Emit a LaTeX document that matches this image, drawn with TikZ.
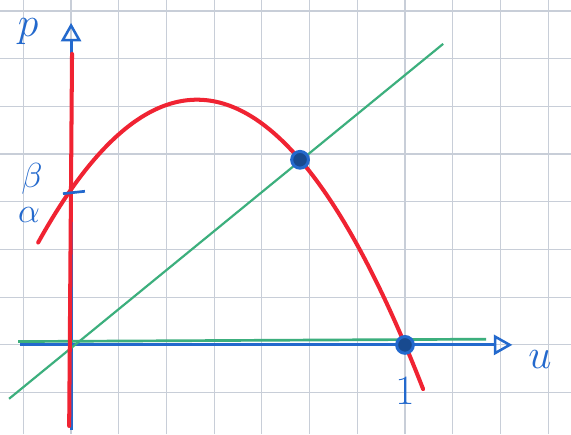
\documentclass[tikz,border=0pt]{standalone}
\usepackage{amsmath}
\usepackage{amssymb}
\usetikzlibrary{arrows.meta}
\definecolor{pen}{RGB}{35,105,205}
\definecolor{redpen}{RGB}{240,35,50}
\definecolor{greenpen}{RGB}{60,175,125}
\definecolor{paper}{RGB}{200,206,216}
\tikzset{node distance=2.0cm, auto}

\begin{document}
\begin{tikzpicture}[
  gridline/.style={draw=paper, line width=0.7pt},
  axis/.style={draw=pen, line width=1.8pt, -{Triangle[open, length=11pt, width=12pt, line width=1.5pt]}},
  curve/.style={draw=redpen, line width=2.4pt, line cap=round},
  greenline/.style={draw=greenpen, line width=1.3pt},
  dot/.style={circle, draw=pen, fill=pen!70!black, line width=1.8pt, inner sep=0pt, minimum size=10pt},
  lab/.style={text=pen, font=\fontsize{28}{30}\selectfont}
]
\useasboundingbox (-1.49,-1.87) rectangle (10.48,7.23);
\fill[white] (-1.49,-1.87) rectangle (10.48,7.23);
\draw[gridline, step=1] (-1.49,-1.87) grid (10.48,7.23);

% axes
\coordinate (O) at (0,0);
\coordinate (ybot) at (0,-1.78);
\coordinate (ytop) at (0,6.75);
\coordinate (xleft) at (-1.07,0);
\coordinate (xright) at (9.25,0);
\draw[axis] (ybot) -- (ytop);
\draw[axis] (xleft) -- (xright);

% green lines
\draw[greenline, line width=1.6pt] (-1.11,0.07) -- (8.7,0.12);
\draw[greenline] (-1.30,-1.13) -- (7.80,6.31);

% red
\draw[curve] (-0.04,-1.70) -- (0.02,6.10);
\draw[curve, domain=-0.69:7.38, samples=60, smooth] plot (\x, {5.14-0.27*(\x-2.64)*(\x-2.64)});

% tick and points
\draw[draw=pen, line width=1.6pt] (-0.17,3.17) -- (0.29,3.22);
\node[dot] (A) at (4.80,3.88) {};
\node[dot] (B) at (7.0,0) {};

% labels
\node[lab] (p) at (-0.9,6.56) {$p$};
\node[lab] (u) at (9.83,-0.3) {$u$};
\node[lab, font=\fontsize{26}{28}\selectfont] (one) at (7.0,-0.96) {$1$};
\node[lab, font=\fontsize{22}{24}\selectfont, inner sep=0pt] (beta) at (-0.82,3.48) {$\beta$};
\node[lab, font=\fontsize{22}{24}\selectfont, inner sep=0pt] (alpha) at (-0.88,2.72) {$\alpha$};
\end{tikzpicture}
\end{document}
